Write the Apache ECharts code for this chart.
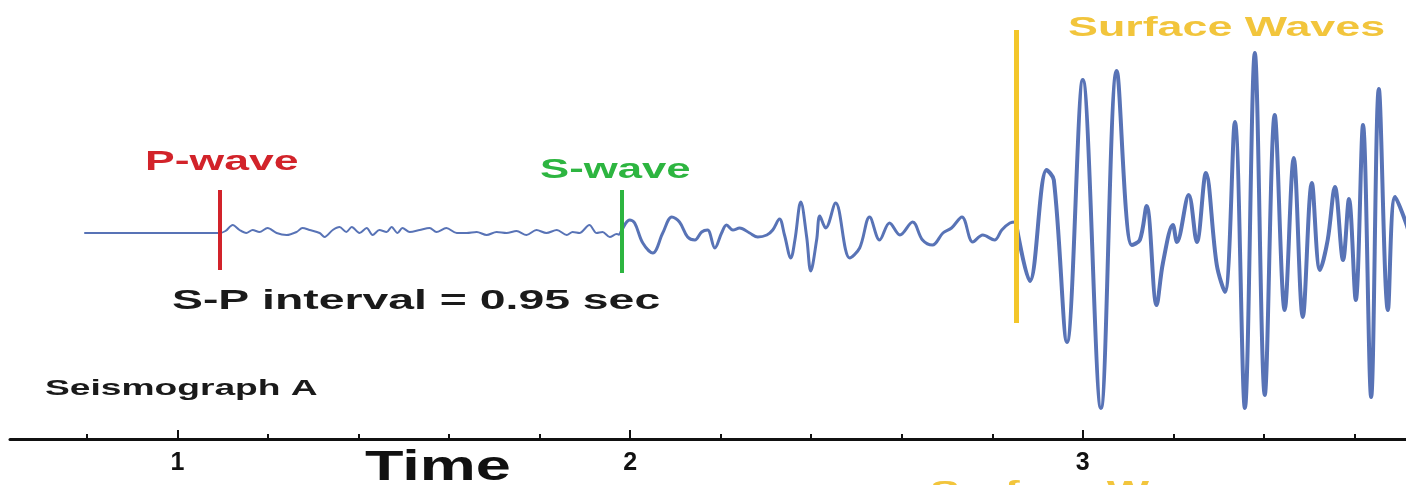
<!DOCTYPE html>
<html>
<head>
<meta charset="utf-8">
<title>Seismograph A</title>
<script src="https://cdn.jsdelivr.net/npm/echarts@6/dist/echarts.min.js"></script>
<style>
  html, body { margin: 0; padding: 0; background: #fff; }
  #main { width: 1406px; height: 485px; }
</style>
</head>
<body>
<div id="main"></div>
<script>
// time (s) and trace amplitude
var quietTime = [0.794, 1.093, 1.106, 1.122, 1.137, 1.152, 1.166, 1.181, 1.199, 1.219, 1.241, 1.263, 1.276, 1.292,
    1.314, 1.325, 1.343, 1.358, 1.373, 1.385, 1.402, 1.418, 1.431, 1.446, 1.462, 1.473, 1.486, 1.497, 1.513, 1.535,
    1.557, 1.572, 1.594, 1.617, 1.639, 1.661, 1.683, 1.705, 1.727, 1.749, 1.771, 1.793, 1.815, 1.838, 1.860, 1.873,
    1.888, 1.910, 1.926, 1.939, 1.955, 1.970, 1.977];
var quietAmp = [0, 0, 2, 8, 3, 0, 3, 1, 5, 0, -2, 1, 5, 3,
    0, -4, 3, 6, 1, 6, 0, 5, -2, 3, 1, 6, 0, 5, 1, 3,
    5, 1, 5, 0, 0, 1, -2, 1, 0, 2, -2, 3, 0, 3, -2, 1,
    0, 8, 0, 1, -4, -1, -2];

var bodyTime = [1.977, 1.999, 2.010, 2.028, 2.050, 2.072, 2.092, 2.109, 2.127, 2.143, 2.158, 2.171, 2.187, 2.202,
    2.213, 2.227, 2.242, 2.264, 2.282, 2.302, 2.315, 2.330, 2.341, 2.355, 2.364, 2.377, 2.390, 2.399, 2.412, 2.419,
    2.432, 2.454, 2.485, 2.507, 2.529, 2.551, 2.573, 2.596, 2.624, 2.646, 2.668, 2.691, 2.710, 2.733, 2.757, 2.779,
    2.805, 2.821, 2.839, 2.852];
var bodyAmp = [-2, 13, 10, -10, -20, 0, 16, 11, -4, -7, 1, 3, -15, 0,
    8, 3, 5, 0, -4, -2, 3, 14, -2, -25, -7, 31, -4, -38, -7, 17,
    5, 30, -25, -15, 16, -7, 10, -2, 11, -7, -12, 0, 5, 16, -9, -2,
    -7, 3, 10, 11];

var surfaceTime = [2.852, 2.883, 2.920, 2.936, 2.965, 3.000, 3.040, 3.075, 3.108, 3.126, 3.141, 3.163, 3.177, 3.199,
    3.208, 3.234, 3.252, 3.272, 3.296, 3.314, 3.336, 3.358, 3.380, 3.402, 3.424, 3.446, 3.466, 3.486, 3.506, 3.524,
    3.541, 3.557, 3.575, 3.588, 3.603, 3.619, 3.637, 3.654, 3.674, 3.690, 3.714, 3.730];
var surfaceAmp = [11, -48, 63, 53, -109, 153, -175, 162, -12, -7, 27, -72, -30, 8,
    -9, 38, -9, 60, -32, -59, 111, -175, 180, -162, 118, -77, 75, -84, 50, -37,
    -7, 46, -27, 34, -67, 108, -164, 144, -77, 36, 10, -15];

// arrival markers
var markerNames = ['P-wave', 'S-wave', 'Surface Waves'];
var markerTime = [1.093, 1.981, 2.852];
var markerTop = [43, 43, 203];
var markerBottom = [-37, -40, -90];
var markerColors = ['#d2232a', '#2db540', '#f3c62a'];

var majorTicks = [1, 2, 3];
var minorTicks = [0.8, 1.2, 1.4, 1.6, 1.8, 2.2, 2.4, 2.6, 2.8, 3.2, 3.4, 3.6];

function pairs(t, a) {
    var out = [];
    for (var i = 0; i < t.length; i++) out.push([t[i], a[i]]);
    return out;
}

var FONT = '"Liberation Sans", Arial, sans-serif';
var waveColor = '#5873b6';

var markLines = [];
for (var i = 0; i < markerTime.length; i++) {
    markLines.push([
        { coord: [markerTime[i], markerTop[i]], lineStyle: { color: markerColors[i], width: i == 2 ? 5 : 4, type: 'solid' } },
        { coord: [markerTime[i], markerBottom[i]] }
    ]);
}

function label(text, x, y, size, color, sx) {
    return {
        type: 'text', x: x, y: y, scaleX: sx, silent: true, z: 100,
        style: { text: text, fill: color, font: 'bold ' + size + 'px ' + FONT, textAlign: 'left', textVerticalAlign: 'middle' }
    };
}

var chart = echarts.init(document.getElementById('main'));
var option = {
    animation: false,
    backgroundColor: '#ffffff',
    grid: { left: 10, right: 0, top: 0, bottom: 46 },
    xAxis: [{
        type: 'value', min: 0.63, max: 3.714,
        axisLine: { show: true, onZero: false, lineStyle: { color: '#111', width: 3 } },
        axisTick: { show: true, inside: true, length: 5, customValues: minorTicks, lineStyle: { color: '#111', width: 2 } },
        axisLabel: { show: true, customValues: majorTicks, margin: 12, color: '#111', fontSize: 25, fontWeight: 'bold', fontFamily: FONT },
        splitLine: { show: false }
    }, {
        type: 'value', min: 0.63, max: 3.714, position: 'bottom',
        axisLine: { show: false, onZero: false },
        axisTick: { show: true, inside: true, length: 9, customValues: majorTicks, lineStyle: { color: '#111', width: 2 } },
        axisLabel: { show: false },
        splitLine: { show: false }
    }],
    yAxis: { type: 'value', min: -206, max: 233, show: false },
    series: [{
        type: 'line', data: pairs(quietTime, quietAmp), smooth: 0.3, symbol: 'none',
        lineStyle: { color: waveColor, width: 2 }
    }, {
        type: 'line', data: pairs(bodyTime, bodyAmp), smooth: 0.35, symbol: 'none',
        lineStyle: { color: waveColor, width: 3 }
    }, {
        type: 'line', data: pairs(surfaceTime, surfaceAmp), smooth: 0.35, symbol: 'none',
        lineStyle: { color: waveColor, width: 4 }
    }, {
        type: 'line', data: [], z: 5,
        markLine: { silent: true, symbol: 'none', label: { show: false }, data: markLines }
    }],
    graphic: [
        label(markerNames[0], 145, 162, 28, markerColors[0], 1.59),
        label(markerNames[1], 540, 170, 28, markerColors[1], 1.56),
        label(markerNames[2], 1068, 28, 28, '#f2c53c', 1.6),
        label('S-P interval = 0.95 sec', 172, 301, 28, '#1a1a1a', 1.655),
        label('Seismograph A', 45, 389, 22, '#1a1a1a', 1.69),
        label('Time', 365, 468, 42, '#111', 1.5),
        label(markerNames[2], 930, 492, 28, '#f2c53c', 1.6)
    ]
};
chart.setOption(option);
</script>
</body>
</html>
